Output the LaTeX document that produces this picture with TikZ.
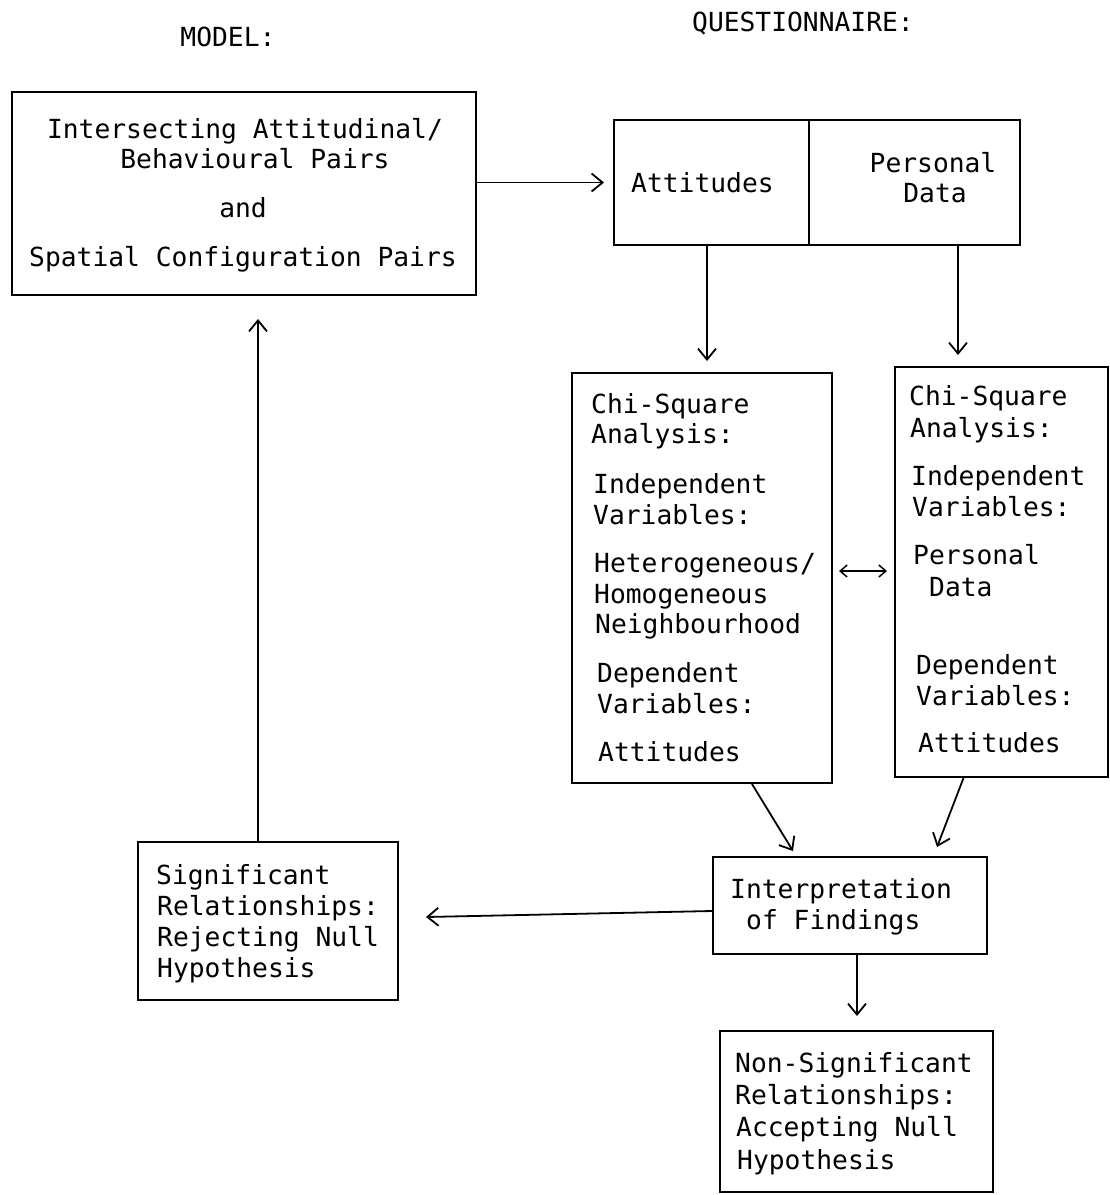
\documentclass[tikz,border=0pt]{standalone}
\usepackage{fontspec}
\newfontfamily\tw{DejaVu Sans Mono}
\usetikzlibrary{arrows.meta,calc}
\begin{document}
\begin{tikzpicture}[x=1pt,y=-1pt,
  box/.style={draw,line width=2pt,rectangle,inner sep=0pt},
  txt/.style={font=\tw\fontsize{26.3}{30}\selectfont,inner sep=0pt},
  lt/.style={txt,anchor=base west},
  ct/.style={txt,anchor=base},
  arr/.style={line width=1.8pt,-{Straight Barb[length=11pt,width=18pt,line width=1.8pt]}},
  arrtwo/.style={line width=1.5pt,{Straight Barb[length=7pt,width=12pt,line width=1.5pt]}-{Straight Barb[length=7pt,width=12pt,line width=1.5pt]}}]
\useasboundingbox (0,0) rectangle (1110,1195);
\fill[white] (0,0) rectangle (1110,1195);

% headings
\node[ct] (hmodel) at (228,46) {MODEL:};
\node[ct] (hquest) at (803,31) {QUESTIONNAIRE:};

% boxes
\node[box,minimum width=464pt,minimum height=203pt] (b1) at (244,193.5) {};
\node[box,minimum width=406pt,minimum height=125pt] (b2) at (817,182.5) {};
\node[box,minimum width=260pt,minimum height=410pt] (b3) at (702,578) {};
\node[box,minimum width=213pt,minimum height=410pt] (b4) at (1001.5,572) {};
\node[box,minimum width=274pt,minimum height=97pt] (b5) at (850,905.5) {};
\node[box,minimum width=260pt,minimum height=158pt] (b6) at (268,921) {};
\node[box,minimum width=273pt,minimum height=161pt] (b7) at (856.5,1111.5) {};

% divider in questionnaire box
\coordinate (xdiv) at (809,0);
\draw[line width=2pt] (b2.north -| xdiv) -- (b2.south -| xdiv);

% box 1 text
\node[ct] (t1a) at (245,138) {Intersecting Attitudinal/};
\node[ct] (t1b) at (255,168) {Behavioural Pairs};
\node[ct] (t1c) at (243,217) {and};
\node[ct] (t1d) at (243,266) {Spatial Configuration Pairs};

% box 2 text
\node[lt] (t2a) at (631,192) {Attitudes};
\node[ct] (t2b) at (933,172) {Personal};
\node[ct] (t2c) at (935,202) {Data};

% box 3 text
\node[lt] (t3a) at (591,413) {Chi-Square};
\node[lt] (t3b) at (591,443) {Analysis:};
\node[lt] (t3c) at (593,493) {Independent};
\node[lt] (t3d) at (593,524) {Variables:};
\node[lt] (t3e) at (594,572) {Heterogeneous/};
\node[lt] (t3f) at (594,603) {Homogeneous};
\node[lt] (t3g) at (595,633) {Neighbourhood};
\node[lt] (t3h) at (597,682) {Dependent};
\node[lt] (t3i) at (597,713) {Variables:};
\node[lt] (t3j) at (598,761) {Attitudes};

% box 4 text
\node[lt] (t4a) at (909,405) {Chi-Square};
\node[lt] (t4b) at (910,437) {Analysis:};
\node[lt] (t4c) at (911,485) {Independent};
\node[lt] (t4d) at (912,516) {Variables:};
\node[lt] (t4e) at (913,564) {Personal};
\node[lt] (t4f) at (929,596) {Data};
\node[lt] (t4g) at (916,674) {Dependent};
\node[lt] (t4h) at (916,705) {Variables:};
\node[lt] (t4i) at (918,752) {Attitudes};

% box 5 text
\node[lt] (t5a) at (730,898) {Interpretation};
\node[lt] (t5b) at (746,929) {of Findings};

% box 6 text
\node[lt] (t6a) at (156,884) {Significant};
\node[lt] (t6b) at (157,915) {Relationships:};
\node[lt] (t6c) at (157,946) {Rejecting Null};
\node[lt] (t6d) at (157,977) {Hypothesis};

% box 7 text
\node[lt] (t7a) at (735,1072) {Non-Significant};
\node[lt] (t7b) at (735,1104) {Relationships:};
\node[lt] (t7c) at (736,1136) {Accepting Null};
\node[lt] (t7d) at (737,1169) {Hypothesis};

% helper x positions
\coordinate (xa) at (707,0);
\coordinate (xp) at (958,0);
\coordinate (xs) at (258,0);
\coordinate (xi) at (857,0);

% connectors
\draw[arr] (b1.east |- b2.west) -- ($(b2.west)+(-9,0)$);
\draw[arr] (b2.south -| xa) -- ($(b3.north -| xa)+(0,-11)$);
\draw[arr] (b2.south -| xp) -- ($(b4.north -| xp)+(0,-11)$);
\draw[arrtwo] ($(b3.east)+(6,-7)$) -- ($(b4.west)+(-7,-1)$);
\draw[arr] ($(b3.south)+(50,0)$) -- ($(b5.north)+(-57,-5)$);
\draw[arr] ($(b4.south)+(-38,0)$) -- ($(b5.north)+(87,-9)$);
\draw[arr] ($(b5.west)+(0,5.5)$) -- ($(b6.east)+(27,-4)$);
\draw[arr] (b6.north -| xs) -- ($(b1.south -| xs)+(0,23)$);
\draw[arr] (b5.south -| xi) -- ($(b7.north -| xi)+(0,-14)$);
\end{tikzpicture}
\end{document}
